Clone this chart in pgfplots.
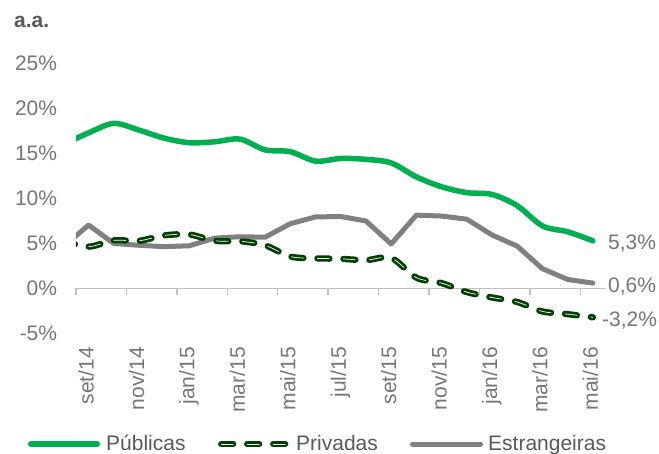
\documentclass[border=0pt]{standalone}
\usepackage{fontspec}
\setmainfont{Liberation Sans}
\usepackage{pgfplots}
\pgfplotsset{compat=1.18}
\definecolor{pubgreen}{RGB}{0,176,80}
\definecolor{privgreen}{RGB}{0,64,0}
\definecolor{estgray}{RGB}{128,128,128}
\definecolor{axgray}{RGB}{191,191,191}
\definecolor{labgray}{RGB}{118,118,118}
\definecolor{txtgray}{RGB}{89,89,89}
\begin{document}
\fontsize{21pt}{25pt}\selectfont
\begin{tikzpicture}
\useasboundingbox[fill=white] (0,0) rectangle (659pt,-454pt);
\begin{axis}[
  at={(76pt,-333.5pt)}, anchor=south west,
  width=529.5pt, height=270pt, scale only axis,
  xmin=-0.5, xmax=20.5, ymin=-5, ymax=25,
  clip mode=individual,
  axis line style={draw=none},
  major tick length=0pt, tick style={draw=none},
  xtick={0,2,...,20},
  xticklabels={set/14,nov/14,jan/15,mar/15,mai/15,jul/15,set/15,nov/15,jan/16,mar/16,mai/16},
  typeset ticklabels with strut,
  xticklabel style={rotate=90, anchor=east, inner xsep=13.5pt, inner ysep=0pt},
  ytick={-5,0,...,25},
  yticklabel={\pgfmathprintnumber{\tick}\%},
  yticklabel style={inner sep=0pt, xshift=-18.7pt},
  tick label style={font=\fontsize{21pt}{25pt}\selectfont, text=labgray},
  /pgf/number format/assume math mode=true,
]
\draw[axgray, line width=1.3pt] (axis cs:-0.5,0) -- (axis cs:20.5,0);
\pgfplotsinvokeforeach{-0.5,1.5,...,19.5}{
  \draw[axgray, line width=1.3pt] (axis cs:#1,0) -- ([yshift=-7pt]axis cs:#1,0);
}
% Estrangeiras
\addplot[estgray, line width=5pt, line join=round, line cap=round] coordinates {
(-1,4.65) (0,7.05) (1,5.0) (2,4.8) (3,4.65) (4,4.75) (5,5.6) (6,5.75) (7,5.7)
(8,7.2) (9,7.95) (10,8.0) (11,7.5) (12,4.95) (13,8.15) (14,8.05) (15,7.7)
(16,5.95) (17,4.7) (18,2.2) (19,1.0) (20,0.6)};
% Privadas
\addplot[privgreen, line width=2.8pt, double=white, double distance=0.7pt,
  dash pattern=on 12pt off 14pt, line cap=round, line join=round, smooth, tension=0.5] coordinates {
(-1,5.3) (0,4.65) (1,5.35) (2,5.3) (3,5.9) (4,6.0) (5,5.3) (6,5.25) (7,4.8)
(8,3.55) (9,3.35) (10,3.3) (11,3.15) (12,3.4) (13,1.2) (14,0.6) (15,-0.4)
(16,-1.0) (17,-1.5) (18,-2.55) (19,-2.85) (20,-3.2)};
% Publicas
\addplot[pubgreen, line width=5.5pt, line cap=round, line join=round, smooth, tension=0.5] coordinates {
(-1,16.0) (0,17.3) (1,18.35) (2,17.6) (3,16.7) (4,16.2) (5,16.3) (6,16.6) (7,15.4)
(8,15.2) (9,14.15) (10,14.45) (11,14.35) (12,13.95) (13,12.4) (14,11.3) (15,10.65)
(16,10.45) (17,9.2) (18,6.95) (19,6.3) (20,5.3)};
\node[labgray, anchor=base west, inner sep=0pt] at ([xshift=15pt,yshift=-9pt]axis cs:20,5.3) {5,3\%};
\node[labgray, anchor=base west, inner sep=0pt] at ([xshift=15pt,yshift=-9pt]axis cs:20,0.6) {0,6\%};
\node[labgray, anchor=base west, inner sep=0pt] at ([xshift=9pt,yshift=-9pt]axis cs:20,-3.2) {-3,2\%};
\end{axis}
\node[txtgray, anchor=base west, inner sep=0pt, font=\bfseries] at (14pt,-28pt) {a.a.};
% legend
\draw[pubgreen, line width=6pt, line cap=round] (31pt,-444pt) -- (97pt,-444pt);
\node[txtgray, anchor=base west, inner sep=0pt] at (106pt,-450pt) {Públicas};
\draw[privgreen, line width=2.8pt, double=white, double distance=0.7pt,
  dash pattern=on 12pt off 14pt, line cap=round] (221.2pt,-444pt) -- (287pt,-444pt);
\node[txtgray, anchor=base west, inner sep=0pt] at (296pt,-450pt) {Privadas};
\draw[estgray, line width=5pt, line cap=round] (412.5pt,-444pt) -- (480.5pt,-444pt);
\node[txtgray, anchor=base west, inner sep=0pt] at (488pt,-450pt) {Estrangeiras};
\end{tikzpicture}
\end{document}
